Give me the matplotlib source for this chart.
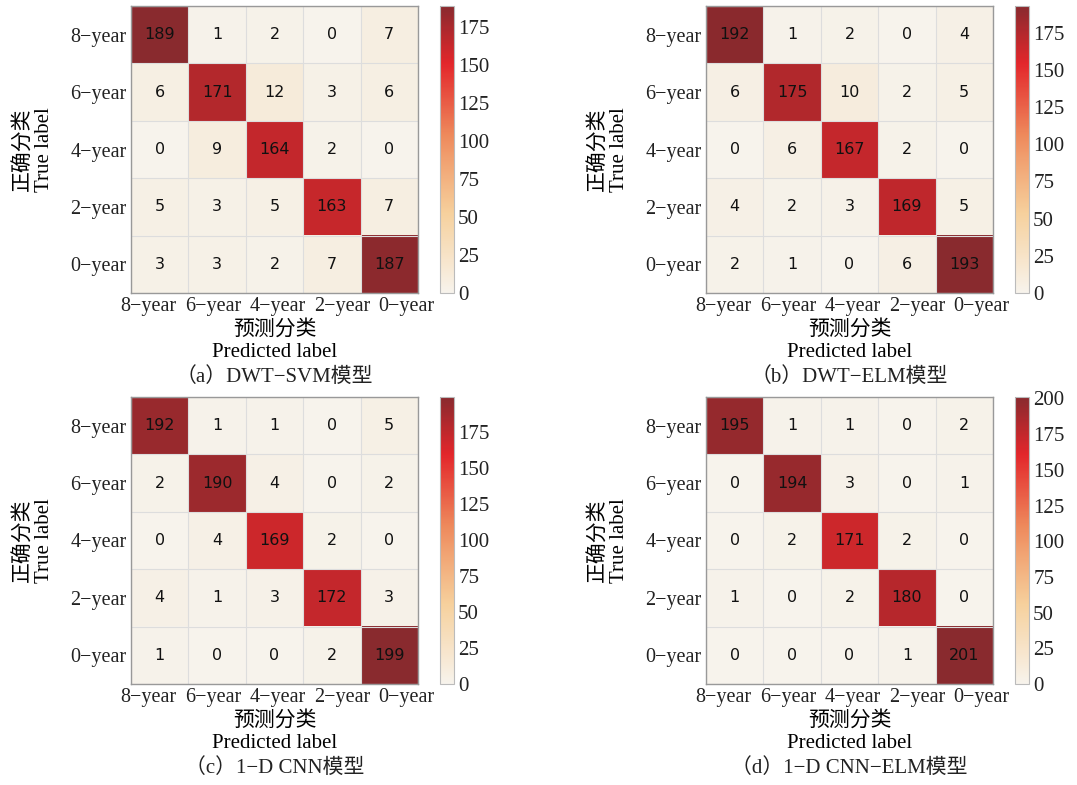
# coding:utf-8
import numpy as np
import matplotlib
matplotlib.use('Agg')
import matplotlib.pyplot as plt
import matplotlib.transforms as mtransforms
from matplotlib.colors import LinearSegmentedColormap

plt.rcParams['font.family'] = ['Liberation Serif', 'Noto Sans CJK SC', 'DejaVu Sans']
plt.rcParams['text.color'] = '#222222'
plt.rcParams['xtick.color'] = '#222222'
plt.rcParams['ytick.color'] = '#222222'

labels = ['8−year', '6−year', '4−year', '2−year', '0−year']

cm_svm = [[189, 1, 2, 0, 7],
          [6, 171, 12, 3, 6],
          [0, 9, 164, 2, 0],
          [5, 3, 5, 163, 7],
          [3, 3, 2, 7, 187]]
cm_elm = [[192, 1, 2, 0, 4],
          [6, 175, 10, 2, 5],
          [0, 6, 167, 2, 0],
          [4, 2, 3, 169, 5],
          [2, 1, 0, 6, 193]]
cm_cnn = [[192, 1, 1, 0, 5],
          [2, 190, 4, 0, 2],
          [0, 4, 169, 2, 0],
          [4, 1, 3, 172, 3],
          [1, 0, 0, 2, 199]]
cm_cnn_elm = [[195, 1, 1, 0, 2],
              [0, 194, 3, 0, 1],
              [0, 2, 171, 2, 0],
              [1, 0, 2, 180, 0],
              [0, 0, 0, 1, 201]]

captions = ['（a）DWT−SVM模型', '（b）DWT−ELM模型',
            '（c）1−D CNN模型', '（d）1−D CNN−ELM模型']

cmap = LinearSegmentedColormap.from_list('cm', [
    (0.0, '#f7f3ec'), (0.28, '#f6d09c'), (0.55, '#ee8a5c'),
    (0.8, '#e3262b'), (1.0, '#892a2e')])

fig = plt.figure(figsize=(10.77, 7.85), dpi=100)
W, H = 1077.0, 785.0

# 每个子图的左上角像素位置
panels = [(cm_svm, 131, 6), (cm_elm, 706, 6), (cm_cnn, 131, 397), (cm_cnn_elm, 706, 397)]
size = 287

for k, (data, x0, y0) in enumerate(panels):
    data = np.array(data)
    ax = fig.add_axes([x0 / W, 1 - (y0 + size) / H, size / W, size / H])
    im = ax.imshow(data, cmap=cmap, vmin=0, vmax=data.max(), aspect='auto',
                   interpolation='nearest')
    for i in range(5):
        for j in range(5):
            ax.text(j, i, str(data[i, j]), ha='center', va='center',
                    fontsize=11.5, family='DejaVu Sans', color='#111111')
    ax.set_xticks(range(5))
    ax.set_yticks(range(5))
    ax.set_xticklabels(labels, fontsize=14.5)
    ax.set_yticklabels(labels, fontsize=14.5)
    ax.set_xticks(np.arange(-0.5, 5, 1), minor=True)
    ax.set_yticks(np.arange(-0.5, 5, 1), minor=True)
    ax.grid(which='minor', color='#dddddd', linewidth=0.8)
    ax.tick_params(which='both', length=0, pad=3)
    # 横轴标签比格子略宽，稍微向两边散开
    for j, lab in enumerate(ax.get_xticklabels()):
        dx = ((j - 2) * 7 + 3) / 100.0
        lab.set_transform(lab.get_transform() +
                          mtransforms.ScaledTranslation(dx, 0, fig.dpi_scale_trans))
    for s in ax.spines.values():
        s.set_color('#999999')
        s.set_linewidth(1)
    ax.set_xlabel('预测分类\nPredicted label', fontsize=15, linespacing=1.2, labelpad=3)
    ax.set_ylabel('正确分类\nTrue label', fontsize=15, linespacing=1.1, labelpad=12)
    cx = x0 + size + 22
    cax = fig.add_axes([cx / W, 1 - (y0 + size) / H, 14 / W, size / H])
    cb = fig.colorbar(im, cax=cax)
    cb.set_ticks(np.arange(0, data.max() + 1, 25))
    cb.ax.tick_params(labelsize=15, length=0, pad=3)
    cb.outline.set_edgecolor('#bbbbbb')
    cb.outline.set_linewidth(0.8)
    fig.text((x0 + size / 2) / W, 1 - (y0 + size + 84) / H, captions[k],
             ha='center', va='center', fontsize=15)

fig.savefig('out.png', dpi=100)
